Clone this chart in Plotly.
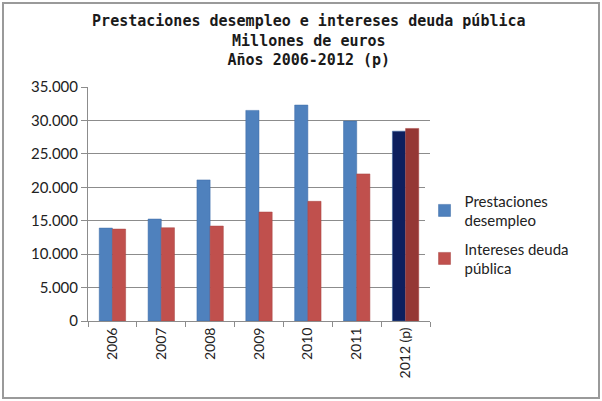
import plotly.graph_objects as go

years = ["2006", "2007", "2008", "2009", "2010", "2011", "2012 (p)"]
prestaciones = [13900, 15250, 21100, 31500, 32300, 29900, 28400]
intereses = [13750, 13950, 14200, 16300, 17900, 22000, 28800]

blue = ["#4f81bd"] * 6 + ["#0d1f5e"]
red = ["#c0504d"] * 6 + ["#953735"]

fig = go.Figure()
fig.add_trace(go.Bar(x=years, y=prestaciones, name="Prestaciones<br>desempleo",
                     legendgroup="a",
                     marker=dict(color=blue, line=dict(color="#3c6aa6", width=0.5))))
fig.add_trace(go.Bar(x=years, y=intereses, name="Intereses deuda<br>pública",
                     legendgroup="b",
                     marker=dict(color=red, line=dict(color="#a94442", width=0.5))))

fig.update_layout(
    width=602, height=401,
    paper_bgcolor="white", plot_bgcolor="white",
    separators=",.",
    barmode="group", bargap=0.46, bargroupgap=0,
    margin=dict(l=88, r=172, t=87, b=80),
    title=dict(
        text="<b>Prestaciones desempleo e intereses deuda pública<br>Millones de euros<br>Años 2006-2012 (p)</b>",
        x=0.513, xanchor="center", y=0.935, yanchor="top",
        font=dict(family="DejaVu Sans Mono", size=15, color="#1a1a1a"),
    ),
    legend=dict(x=0.984, xanchor="left", y=0.37, yanchor="middle",
                font=dict(family="Lato", size=15, color="#222222"),
                itemwidth=30,
                traceorder="grouped", tracegroupgap=6),
    font=dict(family="Lato", color="#222222"),
)
fig.update_yaxes(range=[0, 35000], dtick=5000, tickformat=",d",
                 showgrid=True, gridcolor="#8c8c8c", gridwidth=1,
                 showline=True, linecolor="#8c8c8c", ticks="outside", ticklen=6,
                 tickcolor="#8c8c8c", tickfont=dict(family="Lato", size=15, color="#222222"),
                 zeroline=False)
fig.update_xaxes(tickangle=-90, showline=True, linecolor="#8c8c8c",
                 ticks="outside", tickson="boundaries", ticklen=5, tickcolor="#8c8c8c",
                 tickfont=dict(family="Lato", size=14, color="#222222"))

fig.add_shape(type="rect", xref="paper", yref="paper",
              x0=-88/342 + 3/342, x1=1 + 169/342, y0=-80/234 + 3/234, y1=1 + 84/234,
              line=dict(color="#9a9a9a", width=2), fillcolor="rgba(0,0,0,0)", layer="below")

fig.write_html("out.html")
